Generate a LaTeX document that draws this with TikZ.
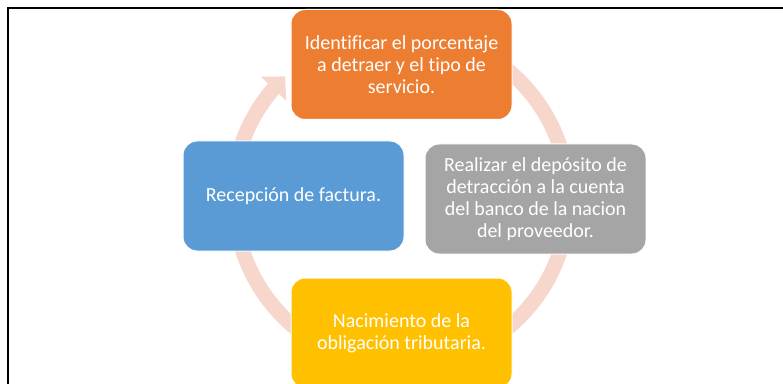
\documentclass[tikz,border=0pt]{standalone}
\usepackage{fontspec}
\setmainfont{Carlito}[Ligatures = NoCommon]
\usetikzlibrary{arrows.meta, bending}

\definecolor{stageorange}{HTML}{ED7D31}
\definecolor{stageblue}{HTML}{5B9BD5}
\definecolor{stagegray}{HTML}{A5A5A5}
\definecolor{stageyellow}{HTML}{FFC000}
\definecolor{ringpink}{HTML}{F7D6CC}

\begin{document}
\begin{tikzpicture}[x = 1pt, y = 1pt,
        stage/.style = {rounded corners = 14pt, draw = white, line width = 1pt,
            minimum width = 221pt, minimum height = 110pt, inner sep = 0pt,
            text = white, align = center, font = \fontsize{20}{22}\selectfont},
        cycle arrow/.style = {draw = ringpink, line width = 15pt,
            -{Triangle[width = 34pt, length = 17pt]}}]
        \useasboundingbox (0, 0) rectangle (783, 383);

        % frame
        \draw [line width = 2pt]
            (8, -2) -- (8, 375) -- (785, 375)
        ;

        % ring of arrows, drawn under the boxes
        \coordinate (hub) at (401.5, 184);
        \draw [cycle arrow]
            (hub) ++(60:167) arc [start angle = 60, end angle = 5, radius = 167]
        ;
        \draw [cycle arrow]
            (hub) ++(-5:167) arc [start angle = -5, end angle = -62, radius = 167]
        ;
        \draw [cycle arrow]
            (hub) ++(-118:167) arc [start angle = -118, end angle = -172, radius = 167]
        ;
        \draw [cycle arrow]
            (hub) ++(175:169) arc [start angle = 175, end angle = 133.5, radius = 169]
        ;

        \node [stage, fill = stageorange] (identify) at (401.5, 318.5)
            {Identificar el porcentaje\\a detraer y el tipo de\\servicio.};
        \node [stage, fill = stageblue] (reception) at (293.5, 187)
            {Recepción de factura.};
        \node [stage, fill = stagegray] (deposit) at (535.5, 184)
            {Realizar el depósito de\\detracción a la cuenta\\del banco de la nacion\\del proveedor.};
        \node [stage, fill = stageyellow] (obligation) at (401.5, 50)
            {Nacimiento de la\\obligación tributaria.};
    \end{tikzpicture}
\end{document}
